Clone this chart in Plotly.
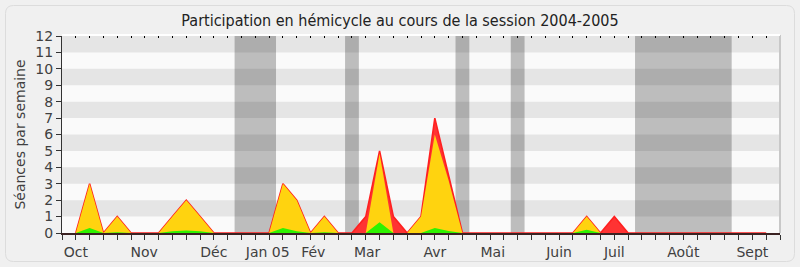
import plotly.graph_objects as go

# ---- data (weekly, session 2004-2005) ----
weeks = list(range(0, 51))
presences = [0, 3, 0, 1, 0, 0, 0, 1, 2, 1,
             0, 0, 0, 0, 0, 3, 2, 0, 1, 0,
             0, 1, 5, 1, 0, 1, 7, 3.5, 0, 0,
             0, 0, 0, 0, 0, 0, 0, 1, 0, 1,
             0, 0, 0, 0, 0, 0, 0, 0, 0, 0, 0]
interventions = [0, 3, 0, 1, 0, 0, 0, 1, 2, 1,
                 0, 0, 0, 0, 0, 3, 2, 0, 1, 0,
                 0, 0, 4.85, 0, 0, 1, 6, 3.2, 0, 0,
                 0, 0, 0, 0, 0, 0, 0, 1, 0, 0,
                 0, 0, 0, 0, 0, 0, 0, 0, 0, 0, 0]
questions = [0, 0.3, 0, 0.05, 0, 0, 0, 0.1, 0.15, 0.1,
             0, 0, 0, 0, 0, 0.3, 0.1, 0, 0.05, 0,
             0, 0, 0.65, 0, 0, 0, 0.3, 0.12, 0, 0,
             0, 0, 0, 0, 0, 0, 0, 0.2, 0, 0,
             0, 0, 0, 0, 0, 0, 0, 0, 0, 0, 0]
vacances = [(12, 14), (20, 20), (28, 28), (32, 32), (41, 47)]
month_pos = [0, 4.95, 10, 13.9, 17.2, 21.1, 26, 30.2, 35, 39, 44, 49]
month_labels = ["Oct", "Nov", "Déc", "Jan 05", "Fév", "Mar", "Avr", "Mai",
                "Juin", "Juil", "Août", "Sept"]
y_ticks = list(range(0, 13))

FONT = "DejaVu Sans"
TFONT = "DejaVu Sans Condensed, DejaVu Sans"
fig = go.Figure()

fig.add_trace(go.Scatter(x=weeks, y=presences, mode="lines", fill="tozeroy",
                         fillcolor="#ff3333", line=dict(color="#ff2020", width=1.6),
                         hoverinfo="skip", showlegend=False))
fig.add_trace(go.Scatter(x=weeks, y=interventions, mode="lines", fill="tozeroy",
                         fillcolor="#ffd30f", line=dict(color="#ffd30f", width=0),
                         hoverinfo="skip", showlegend=False))
fig.add_trace(go.Scatter(x=weeks, y=questions, mode="lines", fill="tozeroy",
                         fillcolor="#2ef200", line=dict(color="#2ef200", width=0),
                         hoverinfo="skip", showlegend=False))
# dummy trace for top tick axis
fig.add_trace(go.Scatter(x=[None], y=[None], xaxis="x2", mode="lines",
                         hoverinfo="skip", showlegend=False))

shapes = []
# horizontal stripes
for k in range(1, 12, 2):
    shapes.append(dict(type="rect", xref="x", yref="y", x0=-1, x1=51, y0=k, y1=k + 1,
                       fillcolor="#e5e5e5", line=dict(width=0), layer="below"))
# vacation blocks
for a, b in vacances:
    shapes.append(dict(type="rect", xref="x", yref="y", x0=a - 0.5, x1=b + 0.5, y0=0, y1=12,
                       fillcolor="rgba(0,0,0,0.245)", line=dict(width=0), layer="below"))
# plot frame lines
shapes.append(dict(type="line", xref="paper", yref="paper", x0=1, x1=1, y0=0, y1=1.005,
                   line=dict(color="#c8c8c8", width=2)))
shapes.append(dict(type="line", xref="paper", yref="paper", x0=0, x1=1, y0=1.005, y1=1.005,
                   line=dict(color="#ffffff", width=2)))
# outer rounded frame
W, H = 718.0, 197.0
def px(xp):
    return (xp - 62) / W
def py(yp):
    return (233 - yp) / H
x0, x1, y0, y1, r = 5.5, 794.5, 5.5, 261.5, 8
path = (f"M {px(x0 + r)},{py(y0)} L {px(x1 - r)},{py(y0)} "
        f"Q {px(x1)},{py(y0)} {px(x1)},{py(y0 + r)} L {px(x1)},{py(y1 - r)} "
        f"Q {px(x1)},{py(y1)} {px(x1 - r)},{py(y1)} L {px(x0 + r)},{py(y1)} "
        f"Q {px(x0)},{py(y1)} {px(x0)},{py(y1 - r)} L {px(x0)},{py(y0 + r)} "
        f"Q {px(x0)},{py(y0)} {px(x0 + r)},{py(y0)} Z")
shapes.append(dict(type="path", xref="paper", yref="paper", path=path,
                   line=dict(color="#dcdcdc", width=1), fillcolor="rgba(0,0,0,0)",
                   layer="below"))

fig.update_layout(
    width=800, height=267,
    margin=dict(l=62, r=20, t=36, b=34, autoexpand=False),
    paper_bgcolor="#f0f0f0",
    plot_bgcolor="#fafafa",
    font=dict(family=FONT, size=14, color="#333333"),
    title=dict(text="Participation en hémicycle au cours de la session 2004-2005",
               x=0.5, xref="container", xanchor="center", y=0.925, yanchor="middle",
               font=dict(family=TFONT, size=16, color="#222222")),
    shapes=shapes,
    xaxis=dict(range=[-1, 51], tickmode="array", tickvals=month_pos, ticktext=month_labels,
               ticks="outside", ticklen=5, tickcolor="rgba(0,0,0,0)", automargin=False,
               showgrid=False, zeroline=False, showline=True, linecolor="#3a2222",
               linewidth=1.5,
               minor=dict(ticks="outside", ticklen=5, tickcolor="#333333",
                          tickmode="linear", tick0=-1, dtick=1, showgrid=False),
               tickfont=dict(family=FONT, size=14, color="#404040")),
    xaxis2=dict(range=[-1, 51], overlaying="x", side="top", tickmode="linear", tick0=0,
                dtick=1, ticks="inside", ticklen=2, tickcolor="#000000", automargin=False,
                showticklabels=False, showgrid=False, zeroline=False, showline=False),
    yaxis=dict(range=[0, 12], tickmode="array", tickvals=y_ticks, automargin=False,
               ticks="outside", ticklen=5, tickcolor="#333333",
               showgrid=False, zeroline=False, showline=True, linecolor="#333333",
               linewidth=1,
               tickfont=dict(family=FONT, size=14, color="#404040"),
               title=dict(text="Séances par semaine", standoff=6,
                          font=dict(family=FONT, size=14, color="#404040"))),
)

fig.write_html("out.html")
